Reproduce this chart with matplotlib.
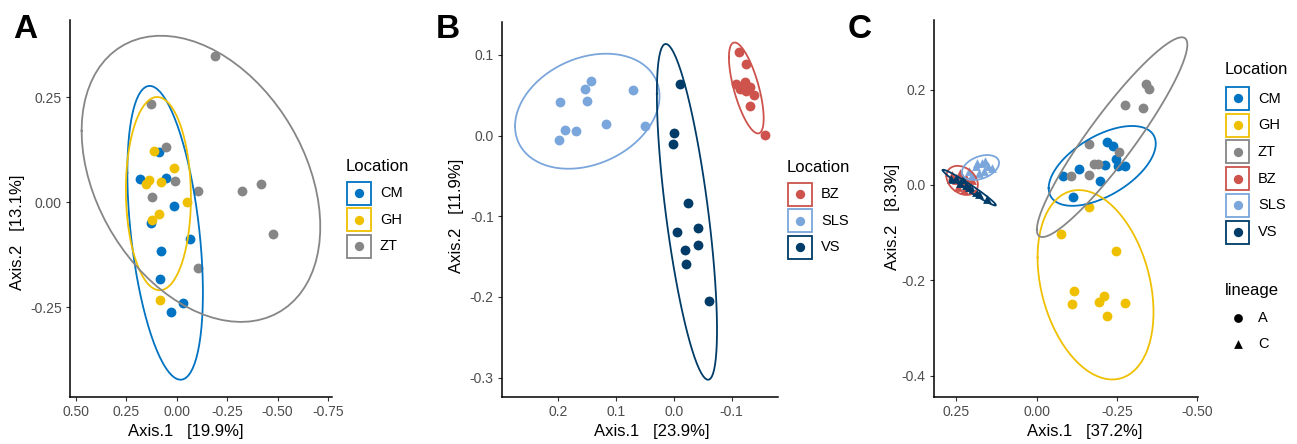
import numpy as np
import matplotlib
matplotlib.use("Agg")
import matplotlib.pyplot as plt
from matplotlib.patches import Rectangle

plt.rcParams['font.family'] = ['Liberation Sans', 'DejaVu Sans']
plt.rcParams['axes.unicode_minus'] = False

# jco palette
colors = {"CM": "#0073C2", "GH": "#EFC000", "ZT": "#868686",
          "BZ": "#CD534C", "SLS": "#7AA6DC", "VS": "#003C67"}

# ---- panel A : Axis.1 / Axis.2 ----
a_cm_x = [0.086, 0.185, 0.054, 0.015, 0.127, -0.066, 0.076, 0.083, -0.030, 0.030]
a_cm_y = [0.119, 0.055, 0.057, -0.010, -0.050, -0.088, -0.117, -0.182, -0.240, -0.262]
a_gh_x = [0.114, 0.013, 0.153, 0.139, 0.076, -0.050, 0.086, 0.124, 0.083]
a_gh_y = [0.123, 0.082, 0.044, 0.052, 0.049, 0.000, -0.029, -0.042, -0.234]
a_zt_x = [-0.188, 0.127, 0.054, 0.008, -0.106, -0.325, -0.417, 0.122, -0.479, -0.106]
a_zt_y = [0.348, 0.235, 0.132, 0.051, 0.027, 0.027, 0.043, 0.013, -0.075, -0.157]

# ---- panel B ----
b_bz_x = [-0.113, -0.125, -0.108, -0.123, -0.115, -0.132, -0.125, -0.138, -0.131, -0.158, -0.120]
b_bz_y = [0.104, 0.088, 0.064, 0.066, 0.058, 0.060, 0.055, 0.050, 0.036, 0.001, 0.057]
b_sls_x = [0.143, 0.154, 0.150, 0.196, 0.071, 0.117, 0.050, 0.188, 0.169, 0.199]
b_sls_y = [0.067, 0.058, 0.043, 0.041, 0.056, 0.014, 0.012, 0.007, 0.005, -0.006]
b_vs_x = [-0.011, -0.001, 0.001, -0.025, -0.006, -0.041, -0.020, -0.041, -0.021, -0.060]
b_vs_y = [0.064, 0.003, -0.011, -0.084, -0.120, -0.115, -0.142, -0.136, -0.159, -0.205]

# ---- panel C (lineage A = circles, lineage C = triangles) ----
c_cm_x = [-0.081, -0.133, -0.114, -0.197, -0.212, -0.218, -0.237, -0.246, -0.254, -0.276]
c_cm_y = [0.018, 0.034, -0.025, 0.009, 0.041, 0.090, 0.082, 0.054, 0.040, 0.039]
c_gh_x = [-0.162, -0.077, -0.249, -0.117, -0.112, -0.194, -0.209, -0.277, -0.221]
c_gh_y = [-0.046, -0.104, -0.138, -0.223, -0.249, -0.245, -0.234, -0.247, -0.275]
c_zt_x = [-0.340, -0.350, -0.275, -0.332, -0.164, -0.257, -0.178, -0.193, -0.164, -0.108]
c_zt_y = [0.211, 0.201, 0.167, 0.162, 0.085, 0.068, 0.043, 0.043, 0.021, 0.018]
c_bz_x = [0.262, 0.250, 0.240, 0.230, 0.220, 0.210, 0.245, 0.235, 0.200, 0.225]
c_bz_y = [0.020, 0.010, 0.025, 0.005, 0.015, 0.000, -0.005, 0.020, 0.010, -0.010]
c_sls_x = [0.210, 0.190, 0.170, 0.160, 0.150, 0.180, 0.200, 0.140, 0.165, 0.185]
c_sls_y = [0.030, 0.040, 0.045, 0.050, 0.040, 0.025, 0.020, 0.035, 0.030, 0.045]
c_vs_x = [0.265, 0.240, 0.220, 0.200, 0.180, 0.155, 0.230, 0.210, 0.190, 0.250]
c_vs_y = [0.012, 0.005, 0.000, -0.010, -0.020, -0.030, 0.012, -0.005, -0.015, 0.015]


def cov_trob(pts, nu=5, maxit=25, tol=0.01):
    n, p = pts.shape
    loc = pts.mean(0)
    w = np.ones(n)
    for _ in range(maxit):
        w0 = w
        X = pts - loc
        S = (X * (w / w.sum())[:, None]).T @ X
        Q = np.einsum('ij,jk,ik->i', X, np.linalg.inv(S), X)
        w = (nu + p) / (nu + Q)
        loc = (w[:, None] * pts).sum(0) / w.sum()
        if np.all(np.abs(w - w0) < tol):
            break
    cov = (X * w[:, None]).T @ X / n
    return loc, cov


def t_ellipse(x, y, level=0.95, segments=80):
    # same as ggplot2 stat_ellipse(type = "t")
    pts = np.column_stack([x, y])
    d = len(x) - 1
    fq = d / 2 * ((1 - level) ** (-2 / d) - 1)
    radius = np.sqrt(2 * fq)
    loc, cov = cov_trob(pts)
    R = np.linalg.cholesky(cov).T
    t = np.linspace(0, 2 * np.pi, segments)
    circ = np.column_stack([np.cos(t), np.sin(t)])
    ell = loc + radius * circ @ R
    return ell[:, 0], ell[:, 1]


W, H = 1297, 444
fig = plt.figure(figsize=(W / 100, H / 100), dpi=100)


def make_axes(l, r, t, b):
    return fig.add_axes([l / W, 1 - b / H, (r - l) / W, (b - t) / H])


def style(ax, xticks, xlabs, yticks, ylabs, xlim, ylim, xlabel, ylabel, xl_pos, yl_pos):
    ax.set_xlim(*xlim)
    ax.set_ylim(*ylim)
    ax.set_xticks(xticks)
    ax.set_xticklabels(xlabs)
    ax.set_yticks(yticks)
    ax.set_yticklabels(ylabs)
    for s in ['top', 'right']:
        ax.spines[s].set_visible(False)
    for s in ['left', 'bottom']:
        ax.spines[s].set_linewidth(1.1)
        ax.spines[s].set_color('black')
    ax.tick_params(length=3, width=0.8, color='#333333', labelcolor='#4D4D4D',
                   labelsize=10, pad=3)
    ax.set_xlabel(xlabel, fontsize=12, va='center')
    ax.set_ylabel(ylabel, fontsize=12, va='center')
    ax.xaxis.set_label_coords(*xl_pos)
    ax.yaxis.set_label_coords(*yl_pos)


def draw_group(ax, x, y, col, marker='o', s=50):
    ax.scatter(x, y, s=s, color=col, marker=marker, linewidths=0, zorder=2)
    ex, ey = t_ellipse(x, y)
    ax.plot(ex, ey, color=col, lw=1.3, zorder=3)


# panel A
axA = make_axes(70, 332, 20, 397)
draw_group(axA, a_cm_x, a_cm_y, colors["CM"])
draw_group(axA, a_gh_x, a_gh_y, colors["GH"])
draw_group(axA, a_zt_x, a_zt_y, colors["ZT"])
style(axA, [0.5, 0.25, 0, -0.25, -0.5, -0.75],
      ["0.50", "0.25", "0.00", "-0.25", "-0.50", "-0.75"],
      [0.25, 0, -0.25], ["0.25", "0.00", "-0.25"],
      (0.53, -0.77), (-0.464, 0.434),
      "Axis.1   [19.9%]", "Axis.2   [13.1%]",
      ((186 - 70) / 262, -(431 - 397) / 377), ((18 - 70) / 262, (397 - 232) / 377))

# panel B
axB = make_axes(502, 778, 21.7, 397)
draw_group(axB, b_bz_x, b_bz_y, colors["BZ"])
draw_group(axB, b_sls_x, b_sls_y, colors["SLS"])
draw_group(axB, b_vs_x, b_vs_y, colors["VS"])
style(axB, [0.2, 0.1, 0.0, -0.1], ["0.2", "0.1", "0.0", "-0.1"],
      [0.1, 0.0, -0.1, -0.2, -0.3], ["0.1", "0.0", "-0.1", "-0.2", "-0.3"],
      (0.297, -0.180), (-0.324, 0.141),
      "Axis.1   [23.9%]", "Axis.2   [11.9%]",
      ((652 - 502) / 276, -(431 - 397) / 375.3), ((457 - 502) / 276, (397 - 216) / 375.3))

# panel C
axC = make_axes(934, 1198, 20, 397)
draw_group(axC, c_cm_x, c_cm_y, colors["CM"])
draw_group(axC, c_gh_x, c_gh_y, colors["GH"])
draw_group(axC, c_zt_x, c_zt_y, colors["ZT"])
draw_group(axC, c_bz_x, c_bz_y, colors["BZ"], marker='^', s=40)
draw_group(axC, c_sls_x, c_sls_y, colors["SLS"], marker='^', s=40)
draw_group(axC, c_vs_x, c_vs_y, colors["VS"], marker='^', s=40)
style(axC, [0.25, 0.0, -0.25, -0.5], ["0.25", "0.00", "-0.25", "-0.50"],
      [0.2, 0.0, -0.2, -0.4], ["0.2", "0.0", "-0.2", "-0.4"],
      (0.3195, -0.503), (-0.445, 0.346),
      "Axis.1   [37.2%]", "Axis.2   [8.3%]",
      ((1085 - 934) / 264, -(431 - 397) / 377), ((892 - 934) / 264, (397 - 217) / 377))

# legends drawn in pixel space
ov = fig.add_axes([0, 0, 1, 1])
ov.set_xlim(0, W)
ov.set_ylim(H, 0)
ov.axis('off')


def legend(x0, title_y, first_y, groups, key_w=24, pitch=26.7):
    ov.text(x0, title_y, "Location", fontsize=12, va='center', ha='left')
    for i, g in enumerate(groups):
        cy = first_y + i * pitch
        ov.add_patch(Rectangle((x0 + 1, cy - 11.5), key_w, 23, fill=False,
                               edgecolor=colors[g], lw=1.3))
        ov.scatter([x0 + 1 + key_w / 2], [cy], s=45, color=colors[g], linewidths=0)
        ov.text(x0 + key_w + 10, cy, g, fontsize=10.5, va='center', ha='left')


legend(346, 166, 193, ["CM", "GH", "ZT"])
legend(787, 167, 194, ["BZ", "SLS", "VS"])
legend(1225, 70, 98.5, ["CM", "GH", "ZT", "BZ", "SLS", "VS"], key_w=23)

ov.text(1225, 290, "lineage", fontsize=12, va='center', ha='left')
ov.scatter([1238], [318], s=40, color='black', marker='o', linewidths=0)
ov.text(1258, 318, "A", fontsize=10.5, va='center', ha='left')
ov.scatter([1238], [344], s=40, color='black', marker='^', linewidths=0)
ov.text(1258, 344, "C", fontsize=10.5, va='center', ha='left')

# panel letters
for lx, lab in [(13, "A"), (436, "B"), (848, "C")]:
    ov.text(lx, 38, lab, fontsize=24, fontweight='bold', va='baseline', ha='left')

fig.savefig("out.png", dpi=100)
